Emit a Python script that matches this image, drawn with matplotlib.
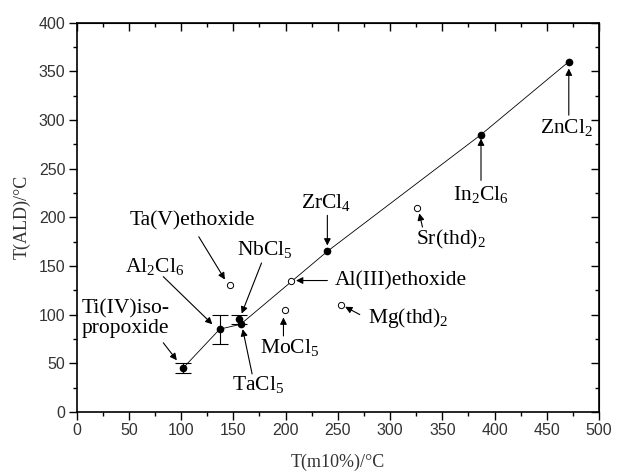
import matplotlib
matplotlib.use("Agg")
import matplotlib.pyplot as plt
from matplotlib.ticker import MultipleLocator

# filled points (connected by the line)
filled_names = ["Ti(IV)iso-\npropoxide", "Al$_\\mathregular{2}$Cl$_\\mathregular{6}$",
                "NbCl$_\\mathregular{5}$", "TaCl$_\\mathregular{5}$",
                "ZrCl$_\\mathregular{4}$", "In$_\\mathregular{2}$Cl$_\\mathregular{6}$",
                "ZnCl$_\\mathregular{2}$"]
filled_x = [102, 137, 155, 157, 240, 387, 471]
filled_y = [45, 85, 95, 90, 165, 285, 360]

# error bars
err_x = [102, 137, 155]
err_y = [45, 85, 95]
err_val = [5, 15, 5]

# line through the filled points
line_x = [102, 137, 157, 240, 387, 471]
line_y = [45, 85, 90, 165, 285, 360]

# open points
open_names = ["Ta(V)ethoxide", "Al(III)ethoxide", "MoCl$_\\mathregular{5}$",
              "Mg(thd)$_\\mathregular{2}$", "Sr(thd)$_\\mathregular{2}$"]
open_x = [147, 205, 199, 253, 326]
open_y = [130, 135, 105, 110, 210]

# annotations: label, text position, arrow start, arrow tip, alignment
notes = [
    ("Ti(IV)iso-\npropoxide", (5, 96), (83, 71), (96, 53), "left"),
    ("Al$_\\mathregular{2}$Cl$_\\mathregular{6}$", (75, 149), (83, 139), (130, 90), "center"),
    ("Ta(V)ethoxide", (111, 196), (117, 180), (142, 136), "center"),
    ("NbCl$_\\mathregular{5}$", (180, 166), (177, 153), (158, 101), "center"),
    ("TaCl$_\\mathregular{5}$", (174, 27), (168, 39), (159, 85), "center"),
    ("MoCl$_\\mathregular{5}$", (204, 65), (198, 78), (198, 97), "center"),
    ("Al(III)ethoxide", (247, 135), (240, 135), (210, 135), "left"),
    ("Mg(thd)$_\\mathregular{2}$", (279, 96), (271, 100), (257, 108), "left"),
    ("ZrCl$_\\mathregular{4}$", (239, 214), (240, 202), (240, 171), "center"),
    ("Sr(thd)$_\\mathregular{2}$", (358, 177), (331, 190), (328, 204), "center"),
    ("In$_\\mathregular{2}$Cl$_\\mathregular{6}$", (387, 223), (387, 238), (387, 281), "center"),
    ("ZnCl$_\\mathregular{2}$", (469, 292), (471, 305), (471, 353), "center"),
]

plt.rcParams["font.family"] = "Liberation Serif"
plt.rcParams["mathtext.fontset"] = "custom"
plt.rcParams["mathtext.rm"] = "Liberation Serif"

fig = plt.figure(figsize=(6.17, 4.75), dpi=100)
ax = fig.add_axes([0.124, 0.133, 0.847, 0.819])

ax.plot(line_x, line_y, color="black", lw=0.6, zorder=2)
ax.errorbar(err_x, err_y, yerr=err_val, fmt="none", ecolor="black",
            elinewidth=0.8, capsize=5.5, capthick=0.8, zorder=2)
ax.plot(filled_x, filled_y, "o", color="black", ms=4.5, zorder=3)
ax.plot(open_x, open_y, "o", mfc="white", mec="black", mew=0.7, ms=4.5, zorder=3)

for label, txt, start, tip, ha in notes:
    ax.text(txt[0], txt[1], label, fontsize=15.5, ha=ha, va="center",
            linespacing=1.05)
    ax.annotate("", xy=tip, xytext=start,
                arrowprops=dict(arrowstyle="-|>", color="black", lw=0.8,
                                mutation_scale=10, shrinkA=0, shrinkB=0))

ax.set_xlim(0, 500)
ax.set_ylim(0, 400)
ax.xaxis.set_major_locator(MultipleLocator(50))
ax.xaxis.set_minor_locator(MultipleLocator(25))
ax.yaxis.set_major_locator(MultipleLocator(50))
ax.yaxis.set_minor_locator(MultipleLocator(25))
ax.tick_params(which="both", direction="out", width=1, labelsize=11.5,
               labelcolor="#333333", pad=2)
ax.tick_params(which="major", length=6)
ax.tick_params(which="minor", length=3)
for lab in ax.get_xticklabels() + ax.get_yticklabels():
    lab.set_family("Liberation Sans")

# mirrored ticks pointing inward on top and right
top = ax.secondary_xaxis("top")
top.xaxis.set_major_locator(MultipleLocator(50))
top.xaxis.set_minor_locator(MultipleLocator(25))
top.tick_params(which="both", direction="in", labeltop=False, width=1)
top.tick_params(which="major", length=6)
top.tick_params(which="minor", length=3)
right = ax.secondary_yaxis("right")
right.yaxis.set_major_locator(MultipleLocator(50))
right.yaxis.set_minor_locator(MultipleLocator(25))
right.tick_params(which="both", direction="in", labelright=False, width=1)
right.tick_params(which="major", length=6)
right.tick_params(which="minor", length=3)

for s in ax.spines.values():
    s.set_linewidth(1.2)

ax.set_xlabel("T(m10%)/°C", fontsize=13, color="#333333", labelpad=11)
ax.set_ylabel("T(ALD)/°C", fontsize=13, color="#333333", labelpad=6)

fig.savefig("out.png", dpi=100)
